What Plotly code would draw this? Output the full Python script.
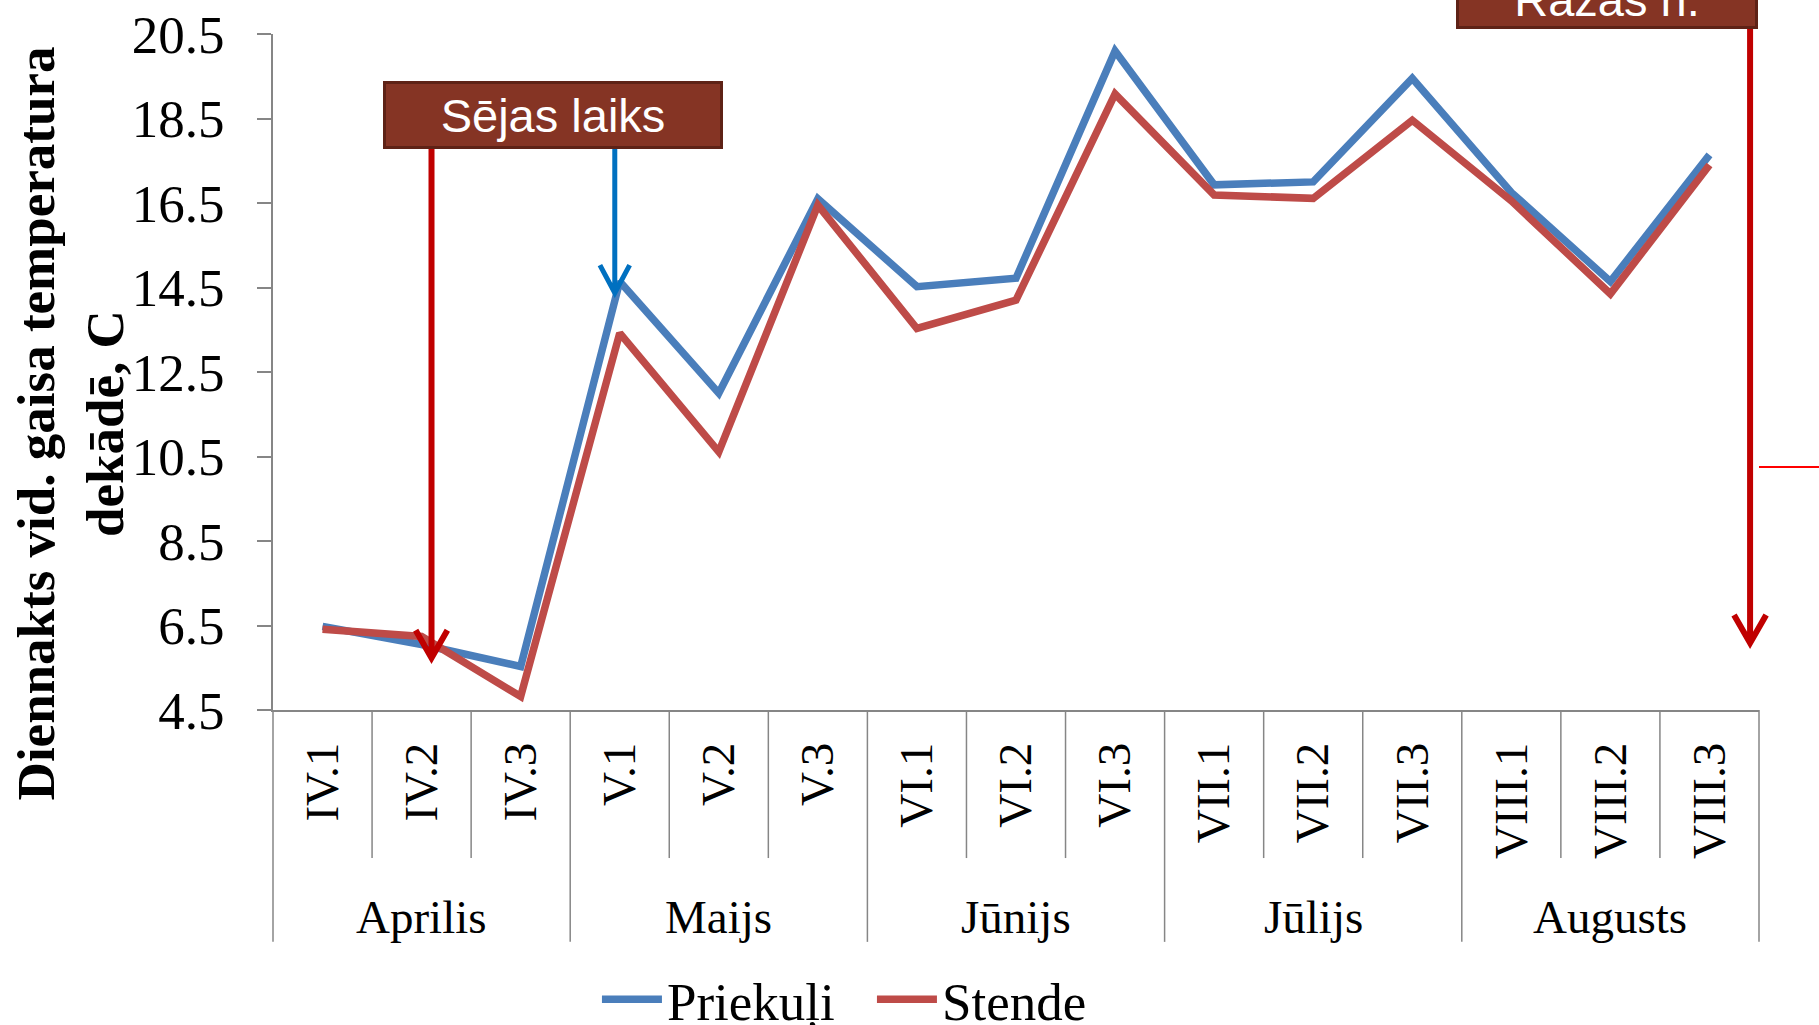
import plotly.graph_objects as go

DEKADES = ['IV.1', 'IV.2', 'IV.3', 'V.1', 'V.2', 'V.3', 'VI.1', 'VI.2', 'VI.3',
           'VII.1', 'VII.2', 'VII.3', 'VIII.1', 'VIII.2', 'VIII.3']
MONTHS = ['Aprilis', 'Maijs', 'Jūnijs', 'Jūlijs', 'Augusts']

PRIEKULI = [6.48, 6.05, 5.53, 14.64, 12.0, 16.6, 14.52, 14.72, 20.1,
            16.93, 17.0, 19.45, 16.75, 14.64, 17.64]
STENDE = [6.41, 6.24, 4.82, 13.42, 10.61, 16.45, 13.53, 14.2, 19.08,
          16.69, 16.61, 18.46, 16.55, 14.35, 17.4]

Y_TICKS = [4.5, 6.5, 8.5, 10.5, 12.5, 14.5, 16.5, 18.5, 20.5]

SERIF = 'Liberation Serif'
SANS = 'Liberation Sans'
GRID_GREY = '#868686'


def arrow_path(x, y_top, y_tip, dx, dy):
    '''Shaft plus an open V head, all in the same coordinate system.'''
    return (f'M {x},{y_top} L {x},{y_tip} '
            f'M {x - dx},{y_tip + dy} L {x},{y_tip} L {x + dx},{y_tip + dy}')


def get_plot():
    fig = go.Figure()

    fig.add_trace(go.Scatter(
        x=DEKADES, y=PRIEKULI, name='Priekuļi', mode='lines',
        line={'color': '#4A7EBB', 'width': 7.5},
    ))
    fig.add_trace(go.Scatter(
        x=DEKADES, y=STENDE, name='Stende', mode='lines',
        line={'color': '#BE4B48', 'width': 7.5},
    ))

    shapes = []
    # category boundaries below the axis, longer ones between months
    n = len(DEKADES)
    for k in range(n + 1):
        is_group = k % 3 == 0
        shapes.append(dict(
            type='line', xref='paper', yref='paper',
            x0=k / n, x1=k / n, y0=0, y1=-0.343 if is_group else -0.219,
            line={'color': GRID_GREY, 'width': 1.5},
        ))

    # sowing arrows (red -> IV.2, blue -> V.1), harvest arrow on the right
    shapes.append(dict(
        type='path', xref='x', yref='y',
        path=arrow_path(1.1, 17.8, 5.73, 0.16, 0.66),
        line={'color': '#C00000', 'width': 6},
    ))
    shapes.append(dict(
        type='path', xref='x', yref='y',
        path=arrow_path(2.95, 17.8, 14.37, 0.15, 0.66),
        line={'color': '#0070C0', 'width': 5},
    ))
    shapes.append(dict(
        type='path', xref='paper', yref='paper',
        path=arrow_path(0.994, 1.012, 0.099, 0.0108, 0.0414),
        line={'color': '#C00000', 'width': 6},
    ))
    shapes.append(dict(
        type='line', xref='paper', yref='paper',
        x0=1.0, x1=1.045, y0=0.3595, y1=0.3595,
        line={'color': '#FF0000', 'width': 2},
    ))

    annotations = []
    for g, month in enumerate(MONTHS):
        annotations.append(dict(
            text=month, x=3 * g + 1, xref='x', y=-0.306, yref='paper',
            xanchor='center', yanchor='middle', showarrow=False,
            font={'family': SERIF, 'size': 47, 'color': 'black'},
        ))

    box_style = dict(
        showarrow=False, bgcolor='#853424', bordercolor='#5E2216',
        borderwidth=3, borderpad=2,
        xanchor='center', yanchor='middle', xref='paper', yref='paper',
        font={'family': SANS, 'size': 47, 'color': 'white'},
    )
    annotations.append(dict(
        text='Sējas laiks', x=0.1884, y=0.8802, width=330, height=58,
        **box_style,
    ))
    annotations.append(dict(
        text='Ražas n.', x=0.898, y=1.0518, width=292, height=50,
        **box_style,
    ))

    annotations.append(dict(
        text='Diennakts vid. gaisa temperatura<br>dekādē, C',
        xref='paper', yref='paper', x=-0.1366, y=0.424,
        xanchor='center', yanchor='middle',
        textangle=-90, showarrow=False,
        font={'family': SERIF, 'size': 53, 'color': 'black', 'weight': 'bold'},
    ))

    fig.update_xaxes(
        type='category',
        range=[-0.5, n - 0.5],
        showline=True, linecolor=GRID_GREY, linewidth=2,
        showgrid=False, ticks='',
        tickangle=-90, ticklabelstandoff=12,
        tickfont={'family': SERIF, 'size': 47, 'color': 'black'},
    )
    fig.update_yaxes(
        range=[4.5, 20.5],
        tickvals=Y_TICKS, tickformat='.1f',
        showline=True, linecolor=GRID_GREY, linewidth=2,
        showgrid=False, zeroline=False,
        ticks='outside', ticklen=14, tickcolor=GRID_GREY, tickwidth=2,
        ticklabelstandoff=22, ticklabeloverflow='allow',
        tickfont={'family': SERIF, 'size': 53, 'color': 'black'},
    )

    fig.update_layout(
        width=1819,
        height=1025,
        margin={'l': 273, 'r': 60, 't': 34, 'b': 315, 'autoexpand': False},
        paper_bgcolor='white',
        plot_bgcolor='white',
        showlegend=True,
        legend={
            'orientation': 'h', 'x': 0.218, 'xanchor': 'left',
            'y': -0.428, 'yanchor': 'middle',
            'font': {'family': SERIF, 'size': 53, 'color': 'black'},
            'itemwidth': 60, 'tracegroupgap': 0,
            'entrywidth': 200, 'entrywidthmode': 'pixels',
        },
        shapes=shapes,
        annotations=annotations,
    )
    return fig


if __name__ == '__main__':
    fig = get_plot()
    # drop the default body margin so the figure fills the window exactly
    fig.write_html(
        'out.html',
        config={'displayModeBar': False},
        post_script="document.body.style.margin = '0';",
    )
